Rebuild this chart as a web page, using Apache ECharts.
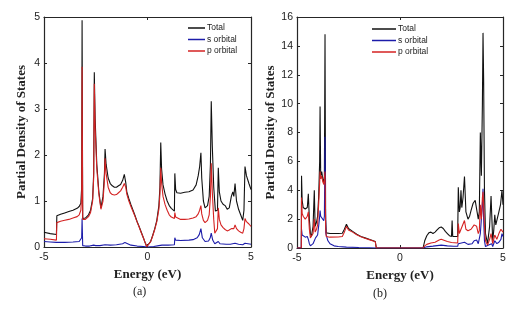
<!DOCTYPE html>
<html>
<head>
<meta charset="utf-8">
<script src="https://cdn.jsdelivr.net/npm/echarts@6/dist/echarts.min.js"></script>
<style>html,body{margin:0;padding:0;background:#fff;}#c{width:527px;height:313px;}</style>
</head>
<body>
<div id="c"></div>
<script>
// Panel (a) data: [energy (eV), PDOS]
const aTotal = [[-5.0,0.32],[-4.7,0.29],[-4.4,0.27],[-4.38,0.68],[-4.2,0.71],[-4.0,0.74],[-3.8,0.77],[-3.6,0.8],[-3.4,0.84],[-3.3,0.88],[-3.22,0.95],[-3.18,1.3],[-3.16,4.93],[-3.13,0.62],[-3.12,0.6],[-3.0,0.63],[-2.85,0.7],[-2.75,0.8],[-2.65,1.05],[-2.6,1.6],[-2.57,3.8],[-2.53,2.8],[-2.45,1.8],[-2.35,1.2],[-2.25,0.85],[-2.15,1.1],[-2.08,1.6],[-2.05,2.13],[-2.0,1.8],[-1.9,1.5],[-1.8,1.38],[-1.7,1.33],[-1.6,1.3],[-1.5,1.3],[-1.4,1.33],[-1.3,1.36],[-1.2,1.45],[-1.12,1.58],[-1.09,1.62],[-1.05,1.4],[-1.0,1.2],[-0.9,1.05],[-0.8,0.92],[-0.7,0.8],[-0.6,0.68],[-0.5,0.55],[-0.4,0.44],[-0.3,0.32],[-0.2,0.2],[-0.1,0.08],[-0.04,0.01],[0.05,0.02],[0.15,0.12],[0.25,0.25],[0.35,0.4],[0.45,0.58],[0.55,0.9],[0.6,1.3],[0.64,2.27],[0.68,1.7],[0.75,1.35],[0.85,1.15],[0.95,1.0],[1.05,0.9],[1.15,0.84],[1.3,0.78],[1.32,1.6],[1.36,1.25],[1.42,1.18],[1.6,1.17],[1.8,1.19],[2.0,1.2],[2.2,1.24],[2.35,1.35],[2.45,1.55],[2.52,1.75],[2.58,2.05],[2.62,1.5],[2.7,1.0],[2.78,0.85],[2.9,0.9],[2.98,1.1],[3.04,1.8],[3.08,3.17],[3.13,2.2],[3.2,1.3],[3.28,0.78],[3.38,0.8],[3.42,1.72],[3.47,1.2],[3.55,1.0],[3.65,0.93],[3.75,0.9],[3.85,0.82],[3.95,0.85],[4.05,1.1],[4.12,1.2],[4.17,1.1],[4.23,1.38],[4.3,1.0],[4.4,0.82],[4.5,0.7],[4.6,0.58],[4.66,0.8],[4.71,1.75],[4.78,1.55],[4.9,1.38],[5.0,1.25]];
const aP = [[-5.0,0.18],[-4.7,0.17],[-4.4,0.15],[-4.38,0.53],[-4.2,0.56],[-4.0,0.58],[-3.8,0.6],[-3.6,0.63],[-3.4,0.66],[-3.3,0.7],[-3.22,0.8],[-3.18,1.1],[-3.16,3.92],[-3.13,0.6],[-3.12,0.58],[-3.0,0.6],[-2.85,0.66],[-2.75,0.75],[-2.65,1.0],[-2.6,1.5],[-2.57,3.55],[-2.53,2.6],[-2.45,1.7],[-2.35,1.15],[-2.25,0.82],[-2.15,1.0],[-2.08,1.45],[-2.05,1.93],[-2.0,1.6],[-1.9,1.3],[-1.8,1.18],[-1.7,1.14],[-1.6,1.13],[-1.5,1.14],[-1.4,1.18],[-1.3,1.22],[-1.2,1.3],[-1.12,1.38],[-1.09,1.42],[-1.05,1.3],[-1.0,1.15],[-0.9,1.0],[-0.8,0.88],[-0.7,0.77],[-0.6,0.66],[-0.5,0.54],[-0.4,0.43],[-0.3,0.31],[-0.2,0.2],[-0.1,0.08],[-0.04,0.01],[0.05,0.02],[0.15,0.11],[0.25,0.24],[0.35,0.38],[0.45,0.55],[0.55,0.82],[0.6,1.15],[0.64,1.72],[0.68,1.4],[0.75,1.1],[0.85,0.92],[0.95,0.8],[1.05,0.7],[1.15,0.65],[1.3,0.62],[1.32,0.75],[1.36,0.65],[1.42,0.62],[1.6,0.6],[1.8,0.6],[2.0,0.61],[2.2,0.63],[2.35,0.66],[2.45,0.72],[2.52,0.8],[2.58,0.9],[2.62,0.72],[2.7,0.58],[2.78,0.53],[2.9,0.58],[2.98,0.7],[3.04,1.1],[3.08,1.82],[3.13,1.2],[3.2,0.6],[3.25,0.3],[3.38,0.4],[3.42,0.85],[3.47,0.6],[3.55,0.48],[3.65,0.42],[3.75,0.38],[3.85,0.35],[3.95,0.37],[4.05,0.4],[4.12,0.42],[4.17,0.4],[4.23,0.48],[4.3,0.4],[4.4,0.35],[4.5,0.32],[4.6,0.3],[4.66,0.4],[4.71,0.62],[4.78,0.55],[4.9,0.5],[5.0,0.45]];
const aS = [[-5.0,0.12],[-4.7,0.11],[-4.4,0.1],[-4.0,0.1],[-3.6,0.11],[-3.3,0.12],[-3.22,0.14],[-3.18,0.2],[-3.16,0.62],[-3.13,0.03],[-3.0,0.02],[-2.8,0.02],[-2.6,0.04],[-2.57,0.06],[-2.5,0.03],[-2.3,0.03],[-2.05,0.05],[-1.8,0.04],[-1.5,0.05],[-1.2,0.07],[-1.09,0.1],[-1.0,0.06],[-0.8,0.04],[-0.5,0.02],[-0.2,0.01],[0,0],[0.3,0.01],[0.55,0.03],[0.64,0.07],[0.7,0.04],[1.0,0.04],[1.3,0.05],[1.32,0.2],[1.36,0.15],[1.6,0.14],[2.0,0.15],[2.2,0.16],[2.4,0.2],[2.5,0.27],[2.58,0.4],[2.65,0.2],[2.78,0.12],[2.95,0.13],[3.03,0.2],[3.08,0.3],[3.15,0.15],[3.25,0.07],[3.42,0.12],[3.5,0.07],[3.8,0.06],[4.0,0.06],[4.23,0.08],[4.4,0.06],[4.6,0.05],[4.71,0.08],[4.8,0.07],[5.0,0.06]];

// Panel (b) data
const bTotal = [[-5.0,0],[-4.79,0],[-4.78,5.0],[-4.75,3.3],[-4.7,2.8],[-4.6,2.7],[-4.5,2.8],[-4.45,3.75],[-4.4,2.0],[-4.35,1.0],[-4.3,0.8],[-4.22,1.5],[-4.16,4.0],[-4.12,1.5],[-4.05,1.8],[-4.0,2.2],[-3.95,3.5],[-3.9,6.0],[-3.88,9.8],[-3.85,5.0],[-3.8,5.3],[-3.75,4.8],[-3.7,4.5],[-3.67,5.0],[-3.64,14.8],[-3.61,2.0],[-3.58,1.05],[-3.4,1.0],[-3.0,1.0],[-2.8,1.02],[-2.7,1.3],[-2.6,1.65],[-2.5,1.35],[-2.3,1.15],[-2.1,0.95],[-1.9,0.8],[-1.7,0.7],[-1.5,0.6],[-1.3,0.5],[-1.2,0.45],[-1.17,0.5],[-1.15,0],[1.12,0],[1.2,0.5],[1.3,0.85],[1.4,1.05],[1.5,1.1],[1.6,1.0],[1.7,1.1],[1.8,1.25],[1.9,1.4],[2.0,1.45],[2.1,1.35],[2.2,1.15],[2.3,1.0],[2.4,0.85],[2.5,0.8],[2.53,1.9],[2.56,0.8],[2.7,0.8],[2.8,0.8],[2.83,4.2],[2.88,2.5],[2.92,2.8],[2.96,4.0],[3.0,2.8],[3.06,3.5],[3.13,4.95],[3.2,2.5],[3.3,2.0],[3.38,2.2],[3.45,2.6],[3.55,3.1],[3.65,3.3],[3.72,3.2],[3.8,2.0],[3.85,2.5],[3.9,8.0],[3.95,5.0],[4.0,10.0],[4.03,14.9],[4.06,11.7],[4.1,4.0],[4.15,1.0],[4.25,0.3],[4.35,1.5],[4.42,3.6],[4.5,0.5],[4.55,1.2],[4.6,2.3],[4.65,1.6],[4.7,1.5],[4.8,2.5],[4.88,3.0],[4.95,4.0],[5.0,3.0]];
const bP = [[-5.0,0],[-4.79,0],[-4.78,3.5],[-4.75,2.4],[-4.7,2.2],[-4.6,2.0],[-4.5,2.2],[-4.45,2.5],[-4.4,1.3],[-4.35,0.7],[-4.3,0.6],[-4.22,1.0],[-4.16,2.0],[-4.12,1.1],[-4.05,1.3],[-4.0,1.6],[-3.95,3.0],[-3.9,4.5],[-3.88,5.3],[-3.85,4.8],[-3.8,5.0],[-3.75,4.6],[-3.7,4.4],[-3.67,4.8],[-3.64,5.3],[-3.61,1.5],[-3.58,0.8],[-3.4,0.75],[-3.0,0.76],[-2.8,0.8],[-2.7,1.1],[-2.6,1.5],[-2.5,1.25],[-2.3,1.1],[-2.1,0.92],[-1.9,0.78],[-1.7,0.68],[-1.5,0.58],[-1.3,0.48],[-1.2,0.43],[-1.17,0.45],[-1.15,0],[1.12,0],[1.2,0.15],[1.3,0.25],[1.5,0.35],[1.7,0.4],[1.9,0.55],[2.0,0.6],[2.1,0.55],[2.3,0.45],[2.5,0.38],[2.53,0.5],[2.56,0.35],[2.8,0.35],[2.83,1.7],[2.88,1.0],[2.96,1.3],[3.0,1.2],[3.13,1.9],[3.2,1.3],[3.3,1.2],[3.45,1.3],[3.6,1.6],[3.72,1.5],[3.8,1.0],[3.85,1.2],[3.9,3.0],[3.95,2.0],[4.0,3.5],[4.03,3.9],[4.06,3.0],[4.1,1.5],[4.15,0.5],[4.25,0.2],[4.35,0.6],[4.42,1.0],[4.5,0.3],[4.6,0.9],[4.7,0.6],[4.8,1.0],[4.9,1.3],[4.95,1.35],[5.0,1.1]];
const bS = [[-5.0,0],[-4.79,0],[-4.78,1.3],[-4.75,0.9],[-4.7,0.85],[-4.6,0.75],[-4.5,0.8],[-4.45,0.6],[-4.4,0.3],[-4.35,0.15],[-4.3,0.12],[-4.22,0.3],[-4.16,0.5],[-4.1,0.7],[-4.0,0.9],[-3.95,1.5],[-3.9,2.2],[-3.88,2.6],[-3.85,2.2],[-3.8,2.1],[-3.7,1.9],[-3.67,2.2],[-3.64,7.7],[-3.62,3.0],[-3.6,1.0],[-3.5,0.5],[-3.4,0.3],[-3.2,0.15],[-3.0,0.1],[-2.6,0.06],[-2.0,0.03],[-1.5,0.02],[-1.15,0],[1.12,0],[1.3,0.08],[1.6,0.13],[2.0,0.2],[2.3,0.15],[2.6,0.12],[2.8,0.12],[2.83,0.3],[2.9,0.2],[3.13,0.4],[3.3,0.25],[3.5,0.3],[3.6,0.5],[3.72,0.55],[3.8,0.3],[3.9,1.0],[4.0,3.0],[4.03,4.1],[4.06,2.0],[4.1,0.5],[4.15,0.1],[4.3,0.2],[4.45,0.3],[4.5,0.1],[4.6,0.5],[4.7,0.3],[4.8,0.4],[4.9,0.6],[4.95,1.0],[5.0,0.8]];

const seriesNames = ['Total', 's orbital', 'p orbital'];
const seriesColors = ['#111111', '#1c1caa', '#d42222'];
const yMaxA = 5, yStepA = 1;
const yMaxB = 16, yStepB = 2;
const xMin = -5, xMax = 5, xStep = 5;
const xTitle = 'Energy (eV)';
const yTitle = 'Partial Density of States';
const panelLabels = ['(a)', '(b)'];

const axisColor = '#262626';
const tickFont = {color: '#222', fontSize: 10.5, fontFamily: 'Liberation Sans, Arial, sans-serif'};
const titleFont = {color: '#222', fontSize: 13, fontWeight: 'bold', fontFamily: 'Liberation Serif, Times New Roman, serif'};

function xAxes(gi, gap) {
  return [
    {type: 'value', gridIndex: gi, min: xMin, max: xMax, interval: xStep, position: 'bottom',
     name: xTitle, nameLocation: 'middle', nameGap: gap, nameTextStyle: titleFont,
     axisLine: {show: true, onZero: false, lineStyle: {color: axisColor, width: 1.2}},
     axisTick: {show: true, inside: true, length: 3, lineStyle: {color: axisColor}},
     axisLabel: Object.assign({margin: 5}, tickFont), splitLine: {show: false}},
    {type: 'value', gridIndex: gi, min: xMin, max: xMax, interval: xStep, position: 'top',
     axisLine: {show: true, onZero: false, lineStyle: {color: axisColor, width: 1.2}},
     axisTick: {show: true, inside: true, length: 3, lineStyle: {color: axisColor}},
     axisLabel: {show: false}, splitLine: {show: false}}
  ];
}
function yAxes(gi, max, step, gap) {
  return [
    {type: 'value', gridIndex: gi, min: 0, max: max, interval: step, position: 'left',
     name: yTitle, nameLocation: 'middle', nameGap: gap, nameTextStyle: titleFont,
     axisLine: {show: true, onZero: false, lineStyle: {color: axisColor, width: 1.2}},
     axisTick: {show: true, inside: true, length: 3, lineStyle: {color: axisColor}},
     axisLabel: Object.assign({margin: 4}, tickFont), splitLine: {show: false}},
    {type: 'value', gridIndex: gi, min: 0, max: max, interval: step, position: 'right',
     axisLine: {show: true, onZero: false, lineStyle: {color: axisColor, width: 1.2}},
     axisTick: {show: true, inside: true, length: 3, lineStyle: {color: axisColor}},
     axisLabel: {show: false}, splitLine: {show: false}}
  ];
}
function line(name, data, xi, yi, color) {
  return {type: 'line', name: name, data: data, xAxisIndex: xi, yAxisIndex: yi,
    showSymbol: false, symbol: 'none', animation: false,
    lineStyle: {color: color, width: 1.1}, itemStyle: {color: color}};
}
const legendText = {color: '#222', fontSize: 8.5, fontFamily: 'Liberation Sans, Arial, sans-serif', lineHeight: 10, padding: [0, 0, 0, -3]};

const option = {
  backgroundColor: '#fff',
  animation: false,
  grid: [
    {left: 44, top: 17, width: 207, height: 230},
    {left: 297, top: 17, width: 206, height: 231}
  ],
  xAxis: [].concat(xAxes(0, 18), xAxes(1, 20)),
  yAxis: [].concat(yAxes(0, yMaxA, yStepA, 16), yAxes(1, yMaxB, yStepB, 19)),
  legend: [
    {orient: 'vertical', left: 188, top: 23, itemWidth: 17, itemHeight: 1.5, itemGap: 1.5,
     icon: 'rect', data: seriesNames, textStyle: legendText, selectedMode: false, padding: 0},
    {orient: 'vertical', left: 372, top: 24, itemWidth: 24, itemHeight: 1.5, itemGap: 1.5,
     icon: 'rect', data: seriesNames, textStyle: legendText, selectedMode: false, padding: 0}
  ],
  series: [
    line(seriesNames[0], aTotal, 0, 0, seriesColors[0]),
    line(seriesNames[1], aS, 0, 0, seriesColors[1]),
    line(seriesNames[2], aP, 0, 0, seriesColors[2]),
    line(seriesNames[0], bTotal, 2, 2, seriesColors[0]),
    line(seriesNames[1], bS, 2, 2, seriesColors[1]),
    line(seriesNames[2], bP, 2, 2, seriesColors[2])
  ],
  graphic: [
    {type: 'text', left: 133, top: 286, style: {text: panelLabels[0], fontSize: 12, fontFamily: 'Liberation Serif, Times New Roman, serif', fill: '#222'}},
    {type: 'text', left: 373, top: 288, style: {text: panelLabels[1], fontSize: 12, fontFamily: 'Liberation Serif, Times New Roman, serif', fill: '#222'}}
  ]
};
const chart = echarts.init(document.getElementById('c'), null, {renderer: 'canvas'});
chart.setOption(option);
</script>
</body>
</html>
